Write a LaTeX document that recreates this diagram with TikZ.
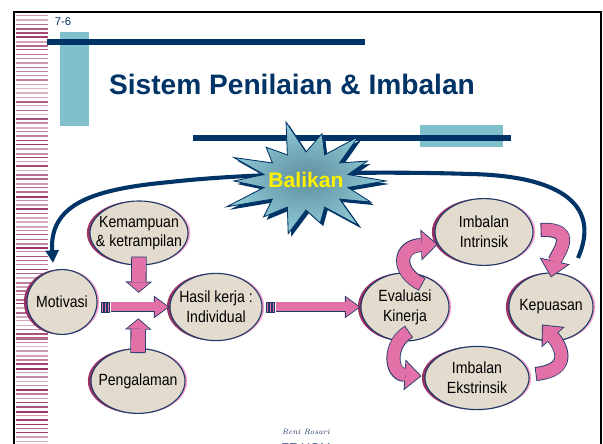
\documentclass[tikz,border=0pt]{standalone}
\usepackage{fontspec}
\newfontfamily\arialfont{Liberation Sans}
\newfontfamily\narrowfont[FakeStretch=0.87]{Liberation Sans}
\usetikzlibrary{arrows.meta}
\usetikzlibrary{shapes.geometric}
\usetikzlibrary{shadows}
\usetikzlibrary{calc}

\definecolor{navyA}{HTML}{003366}
\definecolor{navyB}{HTML}{1F3A68}
\definecolor{skyA}{HTML}{80C0CC}
\definecolor{pinkA}{HTML}{E271A8}
\definecolor{pinkB}{HTML}{F7A3CB}
\definecolor{magA}{HTML}{993366}
\definecolor{beige}{HTML}{E3DBCD}
\definecolor{starIn}{HTML}{5F8F9E}
\definecolor{starOut}{HTML}{8FCBD8}

\newcommand{\balikanstar}{(0:80 and 54)
  \foreach \k/\f in {1/0.9,2/1.05,3/0.8,4/1.0,5/0.85,6/1.1,7/0.9,8/1.0,9/0.8,10/1.12,11/0.9,12/1.05,13/0.85,14/1.0}
  { -- ({(\k-0.5)*360/14}:43 and 29) -- ({\k*360/14}:{80*\f} and {54*\f}) } -- cycle}

\begin{document}
\begin{tikzpicture}[x=0.025cm,y=-0.025cm,
    oval/.style={ellipse,draw=navyB,fill=beige,line width=0.8pt,inner sep=0pt,
      general shadow={shadow xshift=1.6pt,shadow yshift=0pt,fill=pinkB},
      general shadow={shadow xshift=-2.2pt,shadow yshift=0pt,fill=magA}},
    ovaltext/.style={font=\narrowfont\fontsize{11.5}{14}\selectfont,align=center,text=black},
    blk/.style={draw=pinkA,line width=6.4pt,shorten >=1.02pt,shorten <=0.6pt,
      -{Triangle[length=9.4pt,width=13.6pt,line width=0pt]},
      preaction={draw=navyB,line width=7.6pt,shorten >=0pt,shorten <=0pt,
        -{Triangle[length=11pt,width=16pt,line width=0pt]}}},
    vblk/.style={draw=pinkA,line width=9.8pt,shorten >=0.78pt,shorten <=0.6pt,
      -{Triangle[length=6.6pt,width=15.8pt,line width=0pt]},
      preaction={draw=navyB,line width=11pt,shorten >=0pt,shorten <=0pt,
        -{Triangle[length=8pt,width=19pt,line width=0pt]}}},
    cblk/.style={draw=pinkA,line width=8.8pt,shorten >=0.9pt,shorten <=0.6pt,
      -{Triangle[length=10.5pt,width=19.2pt,line width=0pt]},
      preaction={draw=navyB,line width=10pt,shorten >=0pt,shorten <=0pt,
        -{Triangle[length=12pt,width=22pt,line width=0pt]}}},
    bar/.style={fill=pinkA,draw=navyB,line width=0.6pt},
    fb/.style={draw=navyA,line width=2.9pt,shorten >=5pt,
      -{Triangle[length=9pt,width=9pt]}}]
    \useasboundingbox (0,0) rectangle (603,444);
    \fill[white] (0,0) rectangle (603,444);
    \pgfmathsetseed{42}
    \foreach \y in {15,19.3,...,443}{
      \pgfmathsetmacro\sh{int(35+65*rnd)}
      \pgfmathsetmacro\w{0.7+1.5*rnd}
      \fill[magA!\sh!white] (16,\y) rectangle (48,{\y+\w});
    }
    \draw[black,line width=2pt] (14,450) -- (14,12) -- (601,12) -- (601,450);
    \node[font=\arialfont\fontsize{8}{9}\selectfont,text=navyA] (num) at (63,22) {7-6};
    \fill[skyA] (60,32) rectangle (89,126);
    \fill[skyA] (420,125) rectangle (503,147);
    \draw[navyA,line width=3.6pt] (47,42) -- (365,42);
    \draw[navyA,line width=3.6pt] (193,138) -- (511,138);
    \node[font=\arialfont\bfseries\fontsize{20}{24}\selectfont,text=navyA] (title) at (292,84) {Sistem Penilaian \& Imbalan};

    \node[oval,minimum width=1.75cm,minimum height=1.62cm,label={[ovaltext]center:Motivasi}] (mot) at (62,302) {};
    \node[oval,minimum width=2.45cm,minimum height=1.6cm,label={[ovaltext]center:Kemampuan\\\& ketrampilan}] (kem) at (139,233) {};
    \node[oval,minimum width=2.3cm,minimum height=1.68cm,label={[ovaltext]center:Hasil kerja :\\Individual}] (has) at (216,307) {};
    \node[oval,minimum width=2.35cm,minimum height=1.62cm,label={[ovaltext]center:Pengalaman}] (pen) at (138,381) {};
    \node[oval,minimum width=2.2cm,minimum height=1.7cm,label={[ovaltext]center:Evaluasi\\Kinerja}] (eva) at (405,307) {};
    \node[oval,minimum width=2.45cm,minimum height=1.67cm,label={[ovaltext]center:Imbalan\\Intrinsik}] (int) at (484,232) {};
    \node[oval,minimum width=2.1cm,minimum height=1.7cm,label={[ovaltext]center:Kepuasan}] (kep) at (551,307) {};
    \node[oval,minimum width=2.6cm,minimum height=1.58cm,label={[ovaltext]center:Imbalan\\Ekstrinsik}] (ext) at (477,378) {};

    \coordinate (fbR) at (578,258);
    \draw[fb] (fbR) .. controls (600,208) and (566,176) .. (470,174)
      .. controls (380,171) and (250,173) .. (170,182)
      .. controls (95,189) and (49,203) .. (mot.105);
    \begin{scope}[shift={(306,181)}]
      \fill[navyA,shift={(3,3)}] \balikanstar;
      \shadedraw[draw=navyA,line width=0.6pt,inner color=starIn,outer color=starOut] \balikanstar;
    \end{scope}
    \node[font=\arialfont\bfseries\fontsize{15}{18}\selectfont,text=yellow] (bal) at (306,180) {Balikan};

    \coordinate (t1) at (mot.east |- has.west);
    \draw[bar] ($(t1)+(4,-5)$) rectangle ++(2,10);
    \draw[bar] ($(t1)+(7,-5)$) rectangle ++(2,10);
    \draw[bar] ($(t1)+(10,-5)$) rectangle ++(2,10);
    \draw[blk] ($(t1)+(13,0)$) -- (has.west);
    \draw[vblk] ($(kem.south)+(0,-9)$) -- ($(kem.south)!0.33!(pen.north)$);
    \draw[vblk] ($(pen.north)+(0,5)$) -- ($(pen.north)!0.36!(kem.south)$);
    \coordinate (t2) at (has.east);
    \draw[bar] ($(t2)+(4,-5)$) rectangle ++(2,10);
    \draw[bar] ($(t2)+(7,-5)$) rectangle ++(2,10);
    \draw[bar] ($(t2)+(10,-5)$) rectangle ++(2,10);
    \draw[blk] ($(t2)+(13,0)$) -- (eva.west);

    \draw[cblk] ([shift={(2,10)}]eva.65) .. controls (396,272) and (398,246) .. (int.195);
    \draw[cblk] ([shift={(4,-10)}]eva.south) .. controls (388,344) and (390,374) .. ([shift={(-3,-2)}]ext.west);
    \draw[cblk] ([shift={(7,-2)}]int.east) .. controls (580,228) and (556,255) .. ([shift={(0,5)}]kep.north);
    \draw[cblk] ([shift={(6,-4)}]ext.east) .. controls (574,370) and (560,345) .. ([shift={(-9,-17)}]kep.south);

    \node[font=\itshape\fontsize{5.5}{6}\selectfont,text=navyB] (auth) at (306,432) {Reni Rosari};
    \node[font=\arialfont\fontsize{9}{10}\selectfont,text=navyB] (fac) at (306,448) {FE UGM};
\end{tikzpicture}
\end{document}
